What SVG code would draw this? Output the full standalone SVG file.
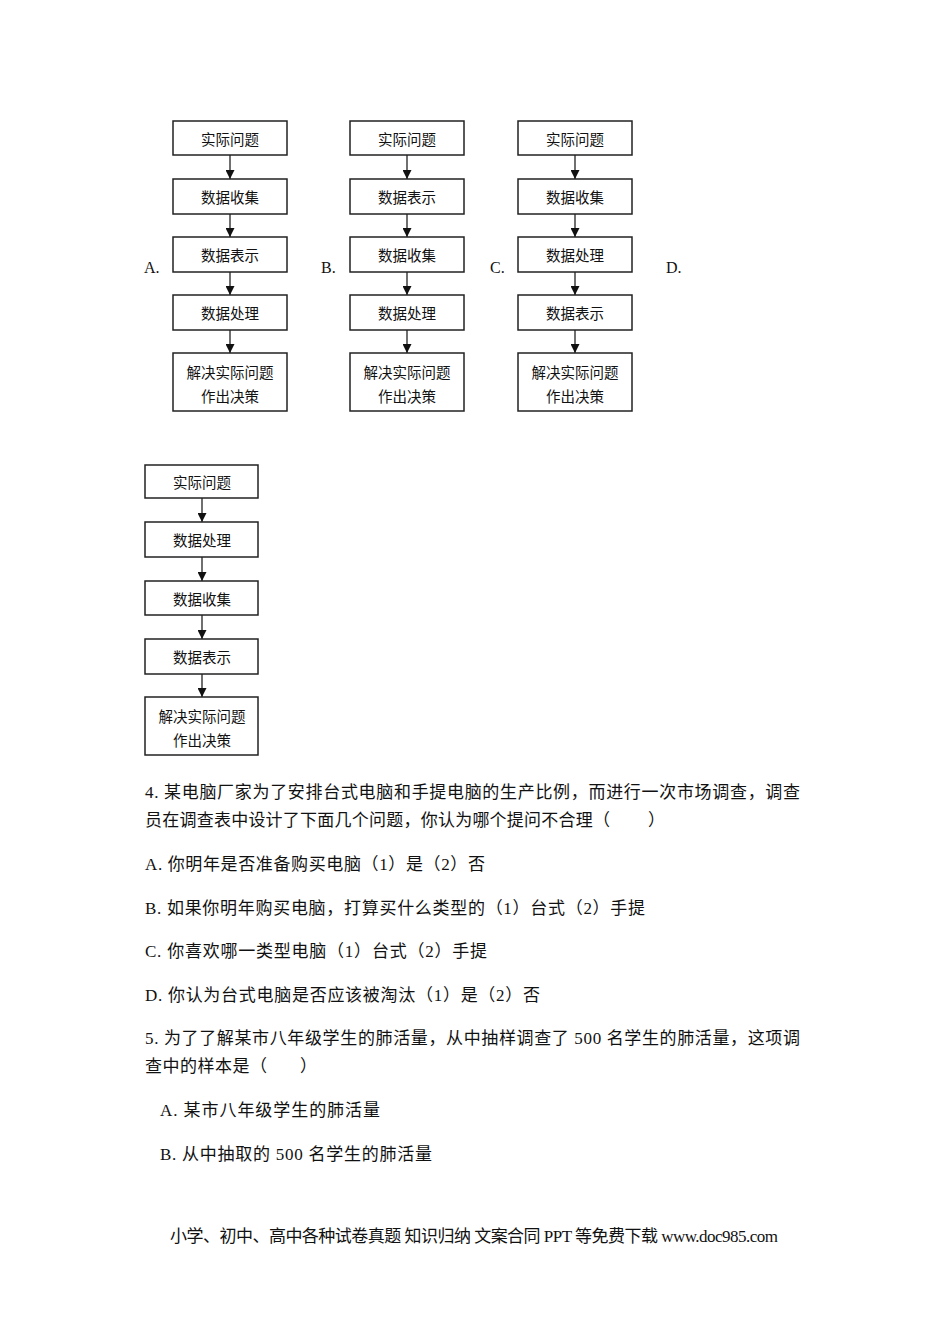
<svg xmlns="http://www.w3.org/2000/svg" width="950" height="1344" viewBox="0 0 950 1344">
<defs>
<style>
.box{fill:#fff;stroke:#222;stroke-width:1.5}
.bt{font-family:"Noto Sans CJK SC",sans-serif;font-size:14.5px;fill:#111;text-anchor:middle;dominant-baseline:central}
.lbl{font-family:"Liberation Serif","Noto Sans CJK SC",serif;font-size:16px;fill:#111}
.tx{font-family:"Liberation Serif","Noto Sans CJK SC",serif;font-size:17px;fill:#111}
.ln{stroke:#222;stroke-width:1.3;fill:none}
</style>
<marker id="ah" viewBox="0 0 10 10" refX="10" refY="5" markerWidth="10" markerHeight="9" markerUnits="userSpaceOnUse" orient="auto">
<path d="M0,0 L10,5 L0,10 z" fill="#111"/>
</marker>
</defs>
<rect width="950" height="1344" fill="#fff"/>

<g id="connectors">
<line class="ln" x1="230" y1="155" x2="230" y2="179" marker-end="url(#ah)"/>
<line class="ln" x1="230" y1="214" x2="230" y2="237" marker-end="url(#ah)"/>
<line class="ln" x1="230" y1="272" x2="230" y2="295" marker-end="url(#ah)"/>
<line class="ln" x1="230" y1="330" x2="230" y2="353" marker-end="url(#ah)"/>
<line class="ln" x1="407" y1="155" x2="407" y2="179" marker-end="url(#ah)"/>
<line class="ln" x1="407" y1="214" x2="407" y2="237" marker-end="url(#ah)"/>
<line class="ln" x1="407" y1="272" x2="407" y2="295" marker-end="url(#ah)"/>
<line class="ln" x1="407" y1="330" x2="407" y2="353" marker-end="url(#ah)"/>
<line class="ln" x1="575" y1="155" x2="575" y2="179" marker-end="url(#ah)"/>
<line class="ln" x1="575" y1="214" x2="575" y2="237" marker-end="url(#ah)"/>
<line class="ln" x1="575" y1="272" x2="575" y2="295" marker-end="url(#ah)"/>
<line class="ln" x1="575" y1="330" x2="575" y2="353" marker-end="url(#ah)"/>
<line class="ln" x1="202" y1="498" x2="202" y2="522" marker-end="url(#ah)"/>
<line class="ln" x1="202" y1="557" x2="202" y2="581" marker-end="url(#ah)"/>
<line class="ln" x1="202" y1="615" x2="202" y2="639" marker-end="url(#ah)"/>
<line class="ln" x1="202" y1="674" x2="202" y2="697" marker-end="url(#ah)"/>
</g>

<!-- Flowchart A -->
<g id="A1"><rect class="box" x="173" y="121" width="114" height="34"/><text class="bt" x="230" y="138">实际问题</text></g>
<g id="A2"><rect class="box" x="173" y="179" width="114" height="35"/><text class="bt" x="230" y="196.5">数据收集</text></g>
<g id="A3"><rect class="box" x="173" y="237" width="114" height="35"/><text class="bt" x="230" y="254.5">数据表示</text></g>
<g id="A4"><rect class="box" x="173" y="295" width="114" height="35"/><text class="bt" x="230" y="312.5">数据处理</text></g>
<g id="A5"><rect class="box" x="173" y="353" width="114" height="58"/><text class="bt" x="230" y="371">解决实际问题</text><text class="bt" x="230" y="395">作出决策</text></g>

<!-- Flowchart B -->
<g id="B1"><rect class="box" x="350" y="121" width="114" height="34"/><text class="bt" x="407" y="138">实际问题</text></g>
<g id="B2"><rect class="box" x="350" y="179" width="114" height="35"/><text class="bt" x="407" y="196.5">数据表示</text></g>
<g id="B3"><rect class="box" x="350" y="237" width="114" height="35"/><text class="bt" x="407" y="254.5">数据收集</text></g>
<g id="B4"><rect class="box" x="350" y="295" width="114" height="35"/><text class="bt" x="407" y="312.5">数据处理</text></g>
<g id="B5"><rect class="box" x="350" y="353" width="114" height="58"/><text class="bt" x="407" y="371">解决实际问题</text><text class="bt" x="407" y="395">作出决策</text></g>

<!-- Flowchart C -->
<g id="C1"><rect class="box" x="518" y="121" width="114" height="34"/><text class="bt" x="575" y="138">实际问题</text></g>
<g id="C2"><rect class="box" x="518" y="179" width="114" height="35"/><text class="bt" x="575" y="196.5">数据收集</text></g>
<g id="C3"><rect class="box" x="518" y="237" width="114" height="35"/><text class="bt" x="575" y="254.5">数据处理</text></g>
<g id="C4"><rect class="box" x="518" y="295" width="114" height="35"/><text class="bt" x="575" y="312.5">数据表示</text></g>
<g id="C5"><rect class="box" x="518" y="353" width="114" height="58"/><text class="bt" x="575" y="371">解决实际问题</text><text class="bt" x="575" y="395">作出决策</text></g>

<!-- Flowchart D -->
<g id="D1"><rect class="box" x="145" y="465" width="113" height="33"/><text class="bt" x="202" y="481.5">实际问题</text></g>
<g id="D2"><rect class="box" x="145" y="522" width="113" height="35"/><text class="bt" x="202" y="539.5">数据处理</text></g>
<g id="D3"><rect class="box" x="145" y="581" width="113" height="34"/><text class="bt" x="202" y="598">数据收集</text></g>
<g id="D4"><rect class="box" x="145" y="639" width="113" height="35"/><text class="bt" x="202" y="656.5">数据表示</text></g>
<g id="D5"><rect class="box" x="145" y="697" width="113" height="58"/><text class="bt" x="202" y="715">解决实际问题</text><text class="bt" x="202" y="739">作出决策</text></g>

<g id="labels">
<text class="lbl" x="144" y="273">A.</text>
<text class="lbl" x="321" y="273">B.</text>
<text class="lbl" x="490" y="273">C.</text>
<text class="lbl" x="666" y="273">D.</text>
</g>

<g id="text">
<text class="tx" x="145" y="798" textLength="655" lengthAdjust="spacing">4. 某电脑厂家为了安排台式电脑和手提电脑的生产比例，而进行一次市场调查，调查</text>
<text class="tx" x="145" y="826" textLength="465" lengthAdjust="spacing">员在调查表中设计了下面几个问题，你认为哪个提问不合理（</text>
<text class="tx" x="648" y="826">）</text>
<text class="tx" x="145" y="870" textLength="340" lengthAdjust="spacing">A. 你明年是否准备购买电脑（1）是（2）否</text>
<text class="tx" x="145" y="914" textLength="500" lengthAdjust="spacing">B. 如果你明年购买电脑，打算买什么类型的（1）台式（2）手提</text>
<text class="tx" x="145" y="957" textLength="342" lengthAdjust="spacing">C. 你喜欢哪一类型电脑（1）台式（2）手提</text>
<text class="tx" x="145" y="1001" textLength="395" lengthAdjust="spacing">D. 你认为台式电脑是否应该被淘汰（1）是（2）否</text>
<text class="tx" x="145" y="1044" textLength="655" lengthAdjust="spacing">5. 为了了解某市八年级学生的肺活量，从中抽样调查了 500 名学生的肺活量，这项调</text>
<text class="tx" x="145" y="1072" textLength="122" lengthAdjust="spacing">查中的样本是（</text>
<text class="tx" x="300" y="1072">）</text>
<text class="tx" x="160" y="1116" textLength="220" lengthAdjust="spacing">A. 某市八年级学生的肺活量</text>
<text class="tx" x="160" y="1160" textLength="272" lengthAdjust="spacing">B. 从中抽取的 500 名学生的肺活量</text>
<text class="tx" x="170" y="1242" textLength="608" lengthAdjust="spacing">小学、初中、高中各种试卷真题 知识归纳 文案合同 PPT 等免费下载  www.doc985.com</text>
</g>
</svg>
